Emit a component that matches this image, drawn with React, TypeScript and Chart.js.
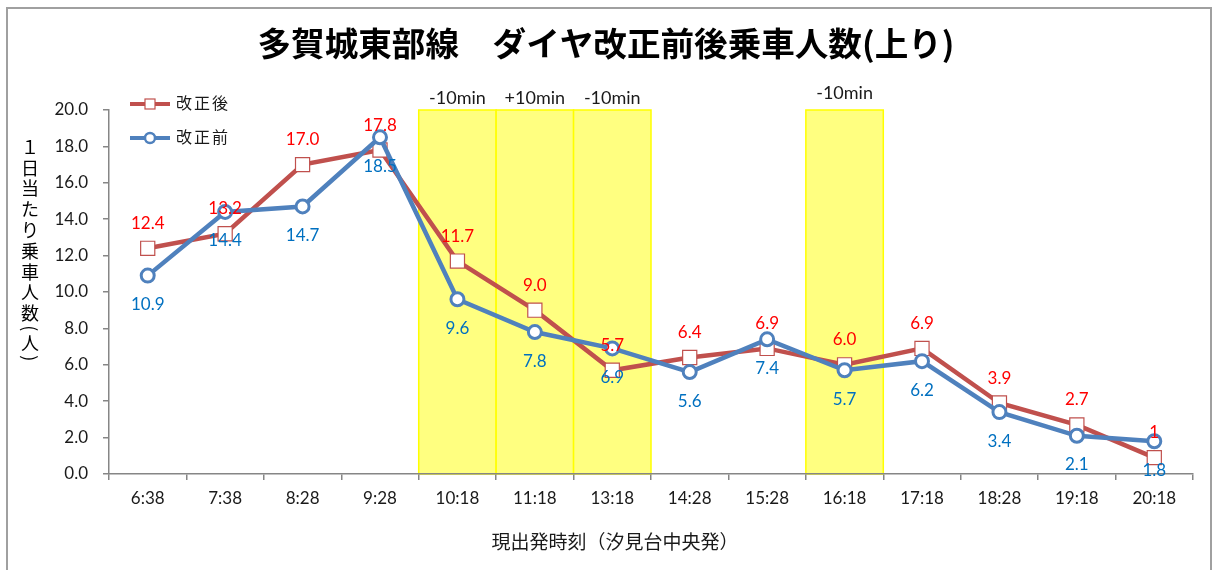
import React, { useEffect, useRef } from 'react';
import { Chart, registerables } from 'chart.js';

Chart.register(...registerables);

// ---- data ----
const categories = ['6:38', '7:38', '8:28', '9:28', '10:18', '11:18', '13:18', '14:28', '15:28', '16:18', '17:18', '18:28', '19:18', '20:18'];
const afterName = '改正後';
const afterValues = [12.4, 13.2, 17.0, 17.8, 11.7, 9.0, 5.7, 6.4, 6.9, 6.0, 6.9, 3.9, 2.7, 0.9];
const afterLabels = ['12.4', '13.2', '17.0', '17.8', '11.7', '9.0', '5.7', '6.4', '6.9', '6.0', '6.9', '3.9', '2.7', '1'];
const beforeName = '改正前';
const beforeValues = [10.9, 14.4, 14.7, 18.5, 9.6, 7.8, 6.9, 5.6, 7.4, 5.7, 6.2, 3.4, 2.1, 1.8];
const beforeLabels = ['10.9', '14.4', '14.7', '18.5', '9.6', '7.8', '6.9', '5.6', '7.4', '5.7', '6.2', '3.4', '2.1', '1.8'];
const highlightCategories = ['10:18', '11:18', '13:18', '16:18'];
const highlightNotes = ['-10min', '+10min', '-10min', '-10min'];
const yMin = 0;
const yMax = 20;
const yStep = 2;
const titleText = '多賀城東部線　ダイヤ改正前後乗車人数(上り)';
const yTitleChars = ['１', '日', '当', 'た', 'り', '乗', '車', '人', '数', '(', '人', ')'];
const xTitleText = '現出発時刻（汐見台中央発）';

const RED = '#C0504D';
const BLUE = '#4F81BD';
const LATIN = 'Lato, "Noto Sans", sans-serif';
const CJK = '"Noto Sans CJK JP", sans-serif';

const decorPlugin = {
  id: 'decor',
  beforeDraw(chart: any) {
    const { ctx, width, height } = chart;
    ctx.save();
    ctx.fillStyle = '#ffffff';
    ctx.fillRect(0, 0, width, height);
    ctx.strokeStyle = '#a0a0a0';
    ctx.lineWidth = 2;
    ctx.strokeRect(7, 8, 1204, 700);
    // highlight bands
    const xs = chart.scales.x;
    const ys = chart.scales.y;
    const half = (xs.getPixelForValue(1) - xs.getPixelForValue(0)) / 2;
    const top = ys.getPixelForValue(yMax);
    const bottom = ys.getPixelForValue(yMin);
    highlightCategories.forEach((cat, k) => {
      const idx = categories.indexOf(cat);
      const cx = xs.getPixelForValue(idx);
      ctx.fillStyle = '#FFFF80';
      ctx.fillRect(cx - half, top, half * 2, bottom - top);
      ctx.strokeStyle = '#FFFF00';
      ctx.lineWidth = 1.5;
      ctx.strokeRect(cx - half, top, half * 2, bottom - top);
      ctx.fillStyle = '#1a1a1a';
      ctx.font = `18px ${LATIN}`;
      ctx.textAlign = 'center';
      ctx.textBaseline = 'middle';
      ctx.fillText(highlightNotes[k], cx, top - (idx === 9 ? 17 : 12));
    });
    ctx.restore();
  },
  afterDatasetsDraw(chart: any) {
    const { ctx } = chart;
    ctx.save();
    ctx.font = `17px ${LATIN}`;
    ctx.textAlign = 'center';
    ctx.textBaseline = 'middle';
    const redMeta = chart.getDatasetMeta(0);
    const blueMeta = chart.getDatasetMeta(1);
    blueMeta.data.forEach((p: any, i: number) => {
      ctx.fillStyle = '#0070C0';
      ctx.fillText(beforeLabels[i], p.x, p.y + 29);
    });
    redMeta.data.forEach((p: any, i: number) => {
      ctx.fillStyle = '#FF0000';
      ctx.fillText(afterLabels[i], p.x, p.y - 25);
    });

    // legend
    const drawLegend = (y: number, color: string, name: string, square: boolean) => {
      ctx.strokeStyle = color;
      ctx.lineWidth = 4;
      ctx.beginPath();
      ctx.moveTo(130, y);
      ctx.lineTo(170, y);
      ctx.stroke();
      ctx.fillStyle = '#ffffff';
      if (square) {
        ctx.fillRect(145, y - 5, 10, 10);
        ctx.lineWidth = 1.2;
        ctx.strokeRect(145, y - 5, 10, 10);
      } else {
        ctx.beginPath();
        ctx.arc(150, y, 5, 0, Math.PI * 2);
        ctx.fill();
        ctx.lineWidth = 2.5;
        ctx.stroke();
      }
      ctx.fillStyle = '#1a1a1a';
      ctx.font = `16px ${CJK}`;
      ctx.textAlign = 'center';
      [...name].forEach((ch, k) => ctx.fillText(ch, 184 + k * 18, y - 1));
    };
    drawLegend(104, RED, afterName, true);
    drawLegend(138, BLUE, beforeName, false);
    ctx.restore();
  },
  afterDraw(chart: any) {
    const { ctx } = chart;
    ctx.save();
    ctx.fillStyle = '#000000';
    ctx.textAlign = 'center';
    ctx.textBaseline = 'middle';
    // title
    ctx.font = `bold 33px ${CJK}`;
    const w = ctx.measureText(titleText).width;
    ctx.save();
    ctx.translate(606, 43);
    ctx.scale(697 / w, 1);
    ctx.fillText(titleText, 0, 0);
    ctx.restore();
    // x title
    ctx.font = `19px ${CJK}`;
    ctx.fillStyle = '#1a1a1a';
    ctx.fillText(xTitleText, 615, 542);
    // y title (stacked vertically)
    ctx.font = `18px ${CJK}`;
    ctx.fillStyle = '#000000';
    let yc = 147;
    yTitleChars.forEach((ch, k) => {
      const paren = ch === '(' || ch === ')';
      if (paren) {
        ctx.save();
        ctx.translate(30, yc);
        ctx.rotate(Math.PI / 2);
        ctx.fillText(ch, 0, 0);
        ctx.restore();
      } else {
        ctx.fillText(ch, 30, yc);
      }
      const next = yTitleChars[k + 1];
      const nextParen = next === '(' || next === ')';
      yc += paren || nextParen ? 15 : 20.8;
    });
    ctx.restore();
  },
};

export default function App() {
  const ref = useRef<HTMLCanvasElement>(null);
  useEffect(() => {
    document.body.style.margin = '0';
    const chart = new Chart(ref.current as HTMLCanvasElement, {
      type: 'line',
      data: {
        labels: categories,
        datasets: [
          {
            label: afterName,
            data: afterValues,
            borderColor: RED,
            borderWidth: 4.5,
            pointStyle: 'rect',
            pointRadius: 10,
            pointBorderWidth: 1.2,
            pointBorderColor: RED,
            pointBackgroundColor: '#ffffff',
            tension: 0,
            order: 1,
          },
          {
            label: beforeName,
            data: beforeValues,
            borderColor: BLUE,
            borderWidth: 4.5,
            pointStyle: 'circle',
            pointRadius: 6.5,
            pointBorderWidth: 3,
            pointBorderColor: BLUE,
            pointBackgroundColor: '#ffffff',
            tension: 0,
            order: 0,
          },
        ],
      },
      options: {
        responsive: false,
        animation: false,
        events: [],
        devicePixelRatio: 1,
        layout: { padding: { top: 110, right: 20, left: 0, bottom: 0 } },
        plugins: { legend: { display: false }, tooltip: { enabled: false }, title: { display: false } },
        scales: {
          x: {
            type: 'category',
            offset: true,
            grid: { offset: true, drawOnChartArea: false, drawTicks: true, tickLength: 6, color: '#868686', lineWidth: 1.5 },
            border: { color: '#868686', width: 1.5 },
            ticks: { color: '#1a1a1a', font: { family: LATIN, size: 17 }, padding: 8, maxRotation: 0, autoSkip: false },
            afterFit: (s: any) => { s.height = 96; },
          },
          y: {
            min: yMin,
            max: yMax,
            grid: { drawOnChartArea: false, drawTicks: true, tickLength: 6, color: '#868686', lineWidth: 1.5 },
            border: { color: '#868686', width: 1.5 },
            ticks: {
              stepSize: yStep,
              color: '#1a1a1a',
              font: { family: LATIN, size: 17 },
              padding: 15,
              callback: (v: any) => Number(v).toFixed(1),
            },
            afterFit: (s: any) => { s.width = 109; },
          },
        },
      },
      plugins: [decorPlugin],
    } as any);
    return () => chart.destroy();
  }, []);
  return (
    <div style={{ width: 1213, height: 570 }}>
      <canvas ref={ref} width={1213} height={570} style={{ display: 'block' }} />
    </div>
  );
}
